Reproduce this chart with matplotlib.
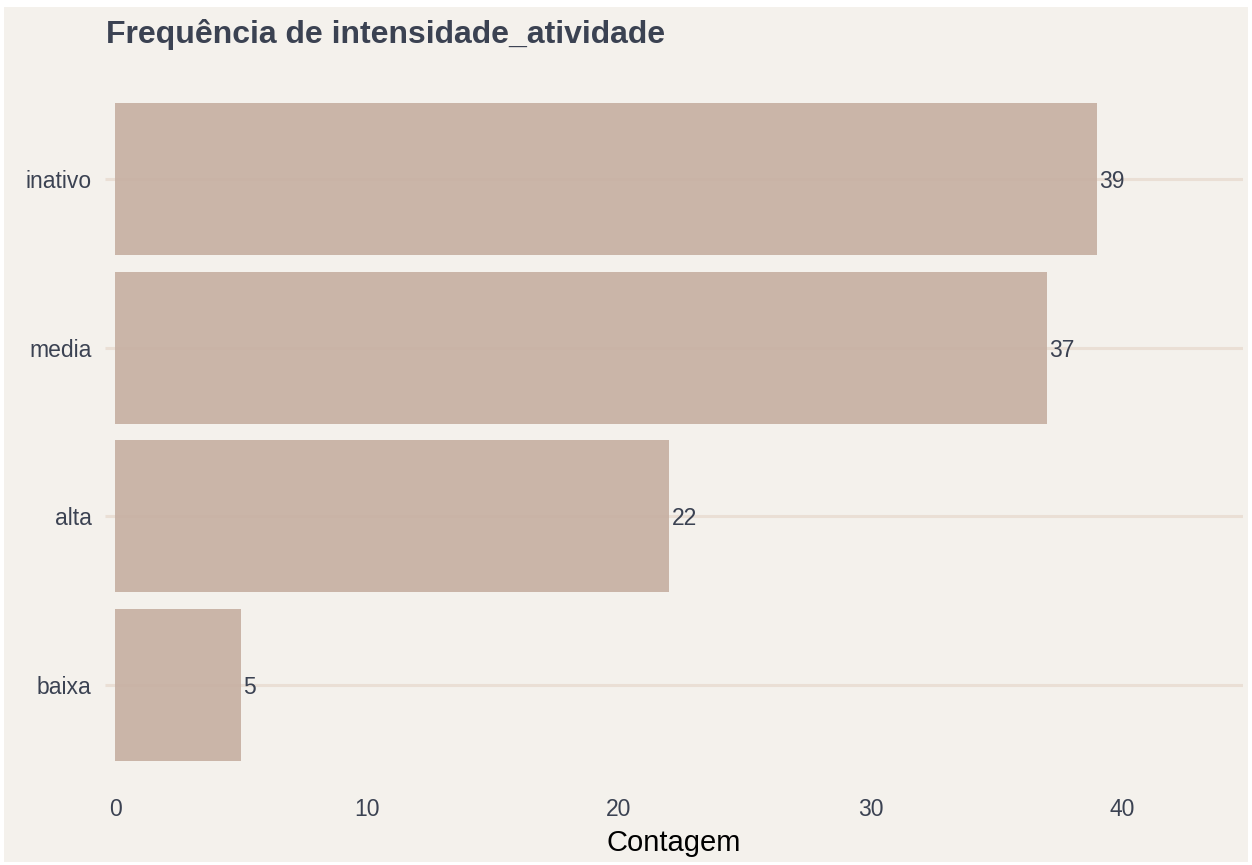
import matplotlib
matplotlib.use("Agg")
import matplotlib.pyplot as plt
from matplotlib.patches import Rectangle

categories = ["baixa", "alta", "media", "inativo"]
counts = [5, 22, 37, 39]
x_ticks = [0, 10, 20, 30, 40]

plt.rcParams['font.family'] = ['Liberation Sans', 'DejaVu Sans']

BG = "#F4F1EC"
GRID = "#EADFD5"
TXT = "#3B4252"
BAR = "#C6AFA1"

fig = plt.figure(figsize=(12.52, 8.65), dpi=100, facecolor="white")
fig.patches.append(Rectangle((4/1252, 3/865), 1244/1252, 855/865, transform=fig.transFigure,
                             facecolor=BG, edgecolor="none", zorder=-10))
ax = fig.add_axes([115/1252, 1-786/865, (1243-115)/1252, (786-78)/865])
ax.set_facecolor(BG)
ax.patch.set_alpha(0)

ypos = list(range(len(categories)))
for y in ypos:
    ax.axhline(y, color=GRID, lw=2.2, zorder=0)
ax.barh(ypos, counts, height=0.9, color=BAR, alpha=0.9, zorder=2)
for y, c in zip(ypos, counts):
    ax.text(c + 0.1, y, str(c), va="center_baseline", ha="left", fontsize=16.5, color=TXT, zorder=3)

ax.set_xlim(0, 44.8)
ax.set_ylim(-0.6, len(categories) - 0.4)
ax.set_yticks(ypos)
ax.set_yticklabels(categories)
ax.set_xticks(x_ticks)
ax.set_xticklabels([str(t) for t in x_ticks])
ax.tick_params(axis="y", length=7, width=2.2, color=GRID, pad=10, labelsize=16.5, labelcolor=TXT)
for lbl in ax.get_yticklabels():
    lbl.set_va("center_baseline")
ax.tick_params(axis="x", length=0, pad=9, labelsize=16.5, labelcolor=TXT)
for s in ax.spines.values():
    s.set_visible(False)

fig.text(674/1252, 1-851/865, "Contagem", fontsize=21, color="black", ha="center", va="baseline")
fig.text(106/1252, 1-43/865, "Frequência de intensidade_atividade", fontsize=23,
         fontweight="bold", color=TXT, ha="left", va="baseline")

fig.savefig("out.png", dpi=100, facecolor=fig.get_facecolor())
